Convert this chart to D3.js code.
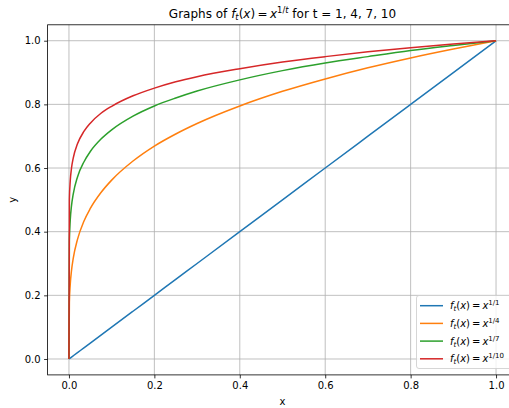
<!DOCTYPE html>
<html>
<head>
<meta charset="utf-8">
<script src="https://cdn.jsdelivr.net/npm/d3@7"></script>
<style>
  body { margin: 0; background: #fff; }
  svg { display: block; font-family: "DejaVu Sans", sans-serif; }
</style>
</head>
<body>
<script>
// sample points
var xs = [0, 0.001, 0.003, 0.006, 0.01, 0.02, 0.035, 0.05, 0.075, 0.1, 0.15, 0.2, 0.25, 0.3, 0.4, 0.5, 0.6, 0.7, 0.8, 0.9, 1.0];
var y1 = [0, 0.001, 0.003, 0.006, 0.01, 0.02, 0.035, 0.05, 0.075, 0.1, 0.15, 0.2, 0.25, 0.3, 0.4, 0.5, 0.6, 0.7, 0.8, 0.9, 1.0];
var y4 = [0, 0.178, 0.234, 0.278, 0.316, 0.376, 0.433, 0.473, 0.523, 0.562, 0.622, 0.669, 0.707, 0.740, 0.795, 0.841, 0.880, 0.915, 0.946, 0.974, 1.0];
var y7 = [0, 0.373, 0.436, 0.482, 0.518, 0.572, 0.619, 0.652, 0.691, 0.720, 0.763, 0.795, 0.820, 0.842, 0.877, 0.906, 0.930, 0.950, 0.969, 0.985, 1.0];
var y10 = [0, 0.501, 0.559, 0.600, 0.631, 0.676, 0.715, 0.741, 0.772, 0.794, 0.827, 0.851, 0.871, 0.887, 0.912, 0.933, 0.950, 0.965, 0.978, 0.990, 1.0];
var seriesT = ["1", "4", "7", "10"];
var seriesY = [y1, y4, y7, y10];
var colors = ["#1f77b4", "#ff7f0e", "#2ca02c", "#d62728"];
var ticks = [0, 0.2, 0.4, 0.6, 0.8, 1.0];

var width = 509, height = 408;
var plotL = 47.6, plotR = 517.4, plotT = 24.8, plotB = 374.9;

var svg = d3.select("body").append("svg")
    .attr("width", width)
    .attr("height", height);

var x = d3.scaleLinear().domain([-0.05, 1.05]).range([plotL, plotR]);
var y = d3.scaleLinear().domain([-0.05, 1.05]).range([plotB, plotT]);

// grid
svg.append("g").selectAll("line").data(ticks).enter().append("line")
    .attr("x1", function(d) { return x(d); })
    .attr("x2", function(d) { return x(d); })
    .attr("y1", plotT).attr("y2", plotB)
    .attr("stroke", "#b0b0b0").attr("stroke-width", 0.8);
svg.append("g").selectAll("line").data(ticks).enter().append("line")
    .attr("y1", function(d) { return y(d); })
    .attr("y2", function(d) { return y(d); })
    .attr("x1", plotL).attr("x2", plotR)
    .attr("stroke", "#b0b0b0").attr("stroke-width", 0.8);

// curves
var line = d3.line()
    .x(function(d) { return x(d[0]); })
    .y(function(d) { return y(d[1]); })
    .curve(d3.curveMonotoneX);

seriesY.forEach(function(ys, i) {
    svg.append("path")
        .attr("d", line(xs.map(function(v, j) { return [v, ys[j]]; })))
        .attr("fill", "none")
        .attr("stroke", colors[i])
        .attr("stroke-width", 1.5);
});

// axes
var xAxis = d3.axisBottom(x).tickValues(ticks).tickFormat(d3.format(".1f")).tickSize(3.5).tickPadding(3.5);
var yAxis = d3.axisLeft(y).tickValues(ticks).tickFormat(d3.format(".1f")).tickSize(3.5).tickPadding(3.5);

var gx = svg.append("g").attr("transform", "translate(0," + plotB + ")").call(xAxis);
var gy = svg.append("g").attr("transform", "translate(" + plotL + ",0)").call(yAxis);
[gx, gy].forEach(function(g) {
    g.select(".domain").remove();
    g.selectAll("line").attr("stroke", "#000").attr("stroke-width", 0.8);
    g.selectAll("text").attr("font-family", "DejaVu Sans").attr("font-size", 10).attr("fill", "#000");
});

// frame
svg.append("rect")
    .attr("x", plotL).attr("y", plotT)
    .attr("width", plotR - plotL).attr("height", plotB - plotT)
    .attr("fill", "none").attr("stroke", "#000").attr("stroke-width", 0.8);

// axis labels
svg.append("text")
    .attr("x", x(0.5)).attr("y", 405)
    .attr("text-anchor", "middle").attr("font-size", 10)
    .text("x");
svg.append("text")
    .attr("transform", "translate(16," + y(0.5) + ") rotate(-90)")
    .attr("text-anchor", "middle").attr("font-size", 10)
    .text("y");

// mathtext-ish helper: [text, italic, sizeFactor, dy]
function mathText(sel, parts, size) {
    parts.forEach(function(p) {
        var t = sel.append("tspan").text(p[0])
            .attr("font-size", size * (p[2] || 1));
        if (p[1]) t.attr("font-style", "italic");
        if (p[3]) t.attr("dy", p[3]);
    });
}

// title
var fs = 12;
var title = svg.append("text")
    .attr("x", (plotL + plotR) / 2).attr("y", 18)
    .attr("text-anchor", "middle");
mathText(title, [
    ["Graphs of "],
    ["f", true], ["t", true, 0.7, fs * 0.2], ["(", false, 1, -fs * 0.2], ["x", true], [")\u2009=\u2009"],
    ["x", true], ["1/", false, 0.7, -fs * 0.4], ["t", true, 0.7],
    [" for t = 1, 4, 7, 10", false, 1, fs * 0.4]
], fs);

// legend
var lg = svg.append("g");
lg.append("rect")
    .attr("x", 416.5).attr("y", 295.5)
    .attr("width", 97).attr("height", 73)
    .attr("rx", 2.5)
    .attr("fill", "#fff").attr("fill-opacity", 0.8)
    .attr("stroke", "#cccccc").attr("stroke-width", 0.8);

var ls = 10;
seriesT.forEach(function(t, i) {
    var cy = 305.7 + i * 17.7;
    lg.append("line")
        .attr("x1", 420).attr("x2", 443)
        .attr("y1", cy).attr("y2", cy)
        .attr("stroke", colors[i]).attr("stroke-width", 1.5);
    var txt = lg.append("text")
        .attr("x", 450).attr("y", cy + 3.5);
    mathText(txt, [
        ["f", true], ["t", true, 0.7, ls * 0.2], ["(", false, 1, -ls * 0.2], ["x", true], [")\u2009=\u2009"],
        ["x", true], ["1/" + t, false, 0.7, -ls * 0.4]
    ], ls);
});
</script>
</body>
</html>
